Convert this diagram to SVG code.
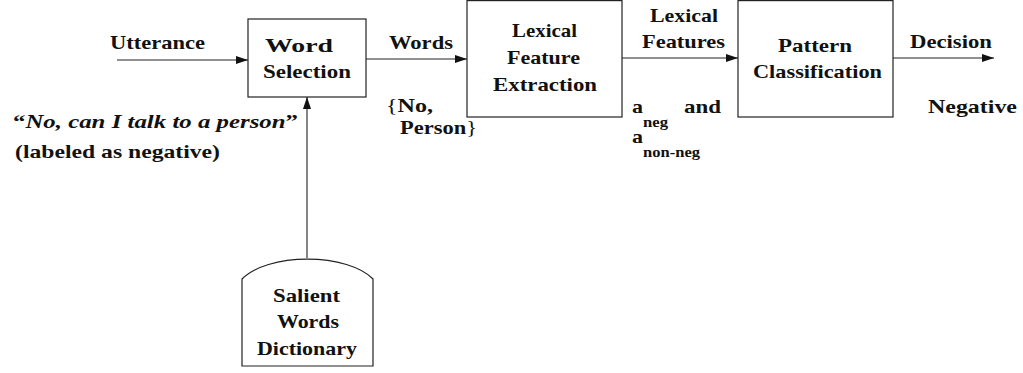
<svg xmlns="http://www.w3.org/2000/svg" width="1023" height="373" viewBox="0 0 1023 373">
<style>
text{font-family:'Liberation Serif','DejaVu Serif','Times New Roman',Times,serif;font-weight:bold;font-size:19px;fill:#111}
.sub{font-size:14px}
.box{fill:#fff;stroke:#222;stroke-width:1.2}
.conn{fill:none;stroke:#222;stroke-width:1.1}
</style>
<defs>
<marker id="arr" markerUnits="userSpaceOnUse" markerWidth="13" markerHeight="9" refX="12" refY="4" orient="auto">
<path d="M0,0 L12,4 L0,8 z" fill="#111"/>
</marker>
</defs>
<g id="connectors">
<path class="conn" d="M117,60 H248" marker-end="url(#arr)"/>
<path class="conn" d="M366,59 H467" marker-end="url(#arr)"/>
<path class="conn" d="M622,58 H738" marker-end="url(#arr)"/>
<path class="conn" d="M893,58 H994" marker-end="url(#arr)"/>
<path class="conn" d="M307,258 V97" marker-end="url(#arr)"/>
</g>
<g id="labels">
<text x="110" y="49" textLength="95" lengthAdjust="spacingAndGlyphs">Utterance</text>
<text x="389" y="49" textLength="64" lengthAdjust="spacingAndGlyphs">Words</text>
<text x="386" y="112" textLength="47" lengthAdjust="spacingAndGlyphs" style="font-weight:normal">{<tspan style="font-weight:bold">No,</tspan></text>
<text x="400" y="134" textLength="77" lengthAdjust="spacingAndGlyphs">Person<tspan style="font-weight:normal">}</tspan></text>
<text x="650" y="22" textLength="68" lengthAdjust="spacingAndGlyphs">Lexical</text>
<text x="642" y="48" textLength="83" lengthAdjust="spacingAndGlyphs">Features</text>
<text x="632" y="113" textLength="11" lengthAdjust="spacingAndGlyphs">a</text>
<text class="sub" x="643" y="127" textLength="25" lengthAdjust="spacingAndGlyphs">neg</text>
<text x="684" y="113" textLength="37" lengthAdjust="spacingAndGlyphs">and</text>
<text x="632" y="143" textLength="11" lengthAdjust="spacingAndGlyphs">a</text>
<text class="sub" x="643" y="157" textLength="57" lengthAdjust="spacingAndGlyphs">non-neg</text>
<text x="910" y="48" textLength="82" lengthAdjust="spacingAndGlyphs">Decision</text>
<text x="928" y="113" textLength="89" lengthAdjust="spacingAndGlyphs">Negative</text>
<text x="13" y="128" textLength="285" lengthAdjust="spacingAndGlyphs">“<tspan style="font-style:italic">No, can I talk to a person</tspan>”</text>
<text x="15" y="158" textLength="205" lengthAdjust="spacingAndGlyphs">(labeled as negative)</text>
</g>
<g id="word-selection">
<rect class="box" x="248" y="19" width="118" height="78"/>
<text x="265" y="52" textLength="68" lengthAdjust="spacingAndGlyphs">Word</text>
<text x="263" y="78" textLength="88" lengthAdjust="spacingAndGlyphs">Selection</text>
</g>
<g id="lexical-feature-extraction">
<rect class="box" x="467" y="0.6" width="155" height="116.4"/>
<text x="512" y="37" textLength="65" lengthAdjust="spacingAndGlyphs">Lexical</text>
<text x="507" y="64" textLength="73" lengthAdjust="spacingAndGlyphs">Feature</text>
<text x="493" y="91" textLength="104" lengthAdjust="spacingAndGlyphs">Extraction</text>
</g>
<g id="pattern-classification">
<rect class="box" x="738" y="0.6" width="155" height="116.4"/>
<text x="778" y="52" textLength="74" lengthAdjust="spacingAndGlyphs">Pattern</text>
<text x="753" y="78" textLength="129" lengthAdjust="spacingAndGlyphs">Classification</text>
</g>
<g id="salient-words-dictionary">
<path class="box" d="M242,279 A72,34 0 0 1 373,279 V366 H242 Z"/>
<text x="273" y="302" textLength="67" lengthAdjust="spacingAndGlyphs">Salient</text>
<text x="277" y="328" textLength="62" lengthAdjust="spacingAndGlyphs">Words</text>
<text x="257" y="355" textLength="100" lengthAdjust="spacingAndGlyphs">Dictionary</text>
</g>
</svg>
